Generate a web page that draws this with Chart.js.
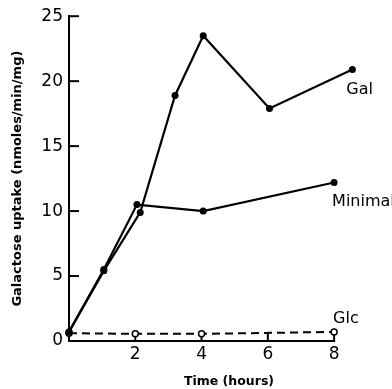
<!DOCTYPE html>
<html>
<head>
<meta charset="utf-8">
<script src="https://cdn.jsdelivr.net/npm/chart.js@4.4.0/dist/chart.umd.min.js"></script>
<style>
  html, body { margin: 0; padding: 0; background: #fff; }
  #wrap { width: 392px; height: 389px; position: relative; }
</style>
</head>
<body>
<div id="wrap"><canvas id="uptakeChart"></canvas></div>
<script>
/* ---------- data ---------- */
const galTime = [0, 1.05, 2.15, 3.2, 4.05, 6.05, 8.55];
const galUptake = [0.7, 5.4, 9.9, 18.9, 23.5, 17.9, 20.9];

const minTime = [0, 1.05, 2.05, 4.05, 8];
const minUptake = [0.7, 5.5, 10.5, 10.0, 12.2];

const glcTime = [0, 2, 4, 8];
const glcUptake = [0.6, 0.55, 0.55, 0.7];

const xTicks = [2, 4, 6, 8];
const yTicks = [0, 5, 10, 15, 20, 25];
const seriesNames = ['Gal', 'Minimal', 'Glc'];

const FONT = '"DejaVu Sans", sans-serif';
const X_AXIS_END = 8;   // the drawn x axis stops at 8 h, the Gal curve runs a bit past it

function toPoints(xs, ys) {
    return xs.map((x, i) => ({ x: x, y: ys[i] }));
}

// x axis line (only up to 8 h), inward tick marks, series labels, x title
const decorPlugin = {
    id: 'decor',
    beforeDatasetsDraw(chart) {
        const ctx = chart.ctx;
        const xs = chart.scales.x, ys = chart.scales.y;
        const area = chart.chartArea;
        ctx.save();
        ctx.strokeStyle = '#000';
        ctx.lineWidth = 2;
        ctx.beginPath();
        ctx.moveTo(area.left - 1, area.bottom);
        ctx.lineTo(xs.getPixelForValue(X_AXIS_END) + 1, area.bottom);
        ctx.stroke();
        xTicks.forEach(v => {
            const px = xs.getPixelForValue(v);
            ctx.beginPath();
            ctx.moveTo(px, area.bottom);
            ctx.lineTo(px, area.bottom - 9);
            ctx.stroke();
        });
        yTicks.forEach(v => {
            if (v === 0) return;
            const py = ys.getPixelForValue(v);
            ctx.beginPath();
            ctx.moveTo(area.left, py);
            ctx.lineTo(area.left + 10, py);
            ctx.stroke();
        });
        ctx.restore();
    },
    afterDraw(chart) {
        const ctx = chart.ctx;
        const xs = chart.scales.x, ys = chart.scales.y;
        ctx.save();
        ctx.fillStyle = '#000';
        ctx.font = '16px ' + FONT;
        ctx.textBaseline = 'middle';
        ctx.textAlign = 'left';
        const galEnd = galTime.length - 1;
        ctx.fillText(seriesNames[0], xs.getPixelForValue(galTime[galEnd]) - 6,
            ys.getPixelForValue(galUptake[galEnd]) + 20);
        const minEnd = minTime.length - 1;
        ctx.fillText(seriesNames[1], xs.getPixelForValue(minTime[minEnd]) - 2,
            ys.getPixelForValue(minUptake[minEnd]) + 19);
        const glcEnd = glcTime.length - 1;
        ctx.fillText(seriesNames[2], xs.getPixelForValue(glcTime[glcEnd]) - 1,
            ys.getPixelForValue(glcUptake[glcEnd]) - 13);

        // x axis title (sits right of centre in the original)
        ctx.font = 'bold 12.5px ' + FONT;
        ctx.textAlign = 'center';
        ctx.fillText('Time (hours)', 229, 382);
        ctx.restore();
    }
};

const solidLine = {
    borderColor: '#000',
    backgroundColor: '#000',
    borderWidth: 2.2,
    pointRadius: 3.5,
    pointBorderWidth: 0,
    showLine: true,
    clip: false
};

new Chart(document.getElementById('uptakeChart'), {
    type: 'scatter',
    data: {
        datasets: [
            Object.assign({ label: seriesNames[0], data: toPoints(galTime, galUptake) }, solidLine),
            Object.assign({ label: seriesNames[1], data: toPoints(minTime, minUptake) }, solidLine),
            {
                label: seriesNames[2],
                data: toPoints(glcTime, glcUptake),
                borderColor: '#000',
                backgroundColor: '#fff',
                borderWidth: 2,
                borderDash: [8, 5],
                pointRadius: 3,
                pointBorderWidth: 1.5,
                pointBorderColor: '#000',
                pointBackgroundColor: '#fff',
                showLine: true,
                clip: false
            }
        ]
    },
    options: {
        responsive: true,
        maintainAspectRatio: false,
        animation: false,
        layout: { padding: { top: 16, right: 38, left: 0, bottom: 0 } },
        plugins: { legend: { display: false }, tooltip: { enabled: false } },
        scales: {
            x: {
                type: 'linear',
                min: 0, max: 8.6,
                afterFit: s => { s.height = 48; },
                afterBuildTicks: s => { s.ticks = xTicks.map(v => ({ value: v })); },
                ticks: { color: '#000', padding: 3, font: { family: FONT, size: 17 } },
                grid: { display: false, drawTicks: false },
                border: { display: false }
            },
            y: {
                type: 'linear',
                min: 0, max: 25,
                afterFit: s => { s.width = 69; },
                afterBuildTicks: s => { s.ticks = yTicks.map(v => ({ value: v })); },
                ticks: { color: '#000', padding: 6, font: { family: FONT, size: 17 } },
                grid: { display: false, drawTicks: false },
                border: { display: true, color: '#000', width: 2 },
                title: {
                    display: true,
                    text: 'Galactose uptake (nmoles/min/mg)',
                    color: '#000',
                    font: { family: FONT, size: 13, weight: 'bold' },
                    padding: { top: 10, bottom: 0 }
                }
            }
        }
    },
    plugins: [decorPlugin]
});
</script>
</body>
</html>
